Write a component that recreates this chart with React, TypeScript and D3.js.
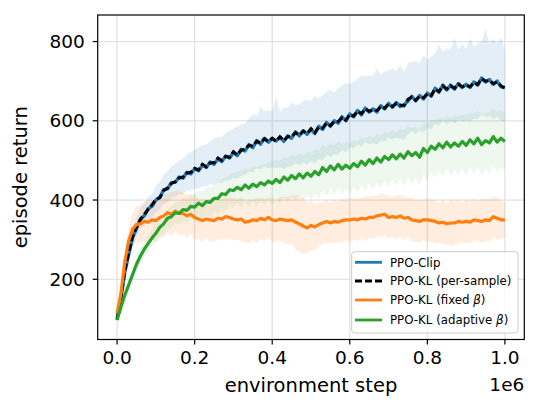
import * as d3 from "d3";

// environment steps, one point every 10k
const steps = d3.range(101).map((i) => i * 10000);

const ppoClip = [
  100, 152, 218, 262, 305, 328, 352, 360, 378, 384,
  400, 406, 426, 428, 444, 445, 458, 455, 470, 466,
  479, 474, 488, 482, 496, 490, 504, 497, 511, 506,
  520, 512, 528, 524, 540, 532, 550, 541, 556, 546,
  555, 549, 558, 548, 562, 556, 572, 562, 575, 566,
  578, 568, 586, 578, 596, 586, 600, 594, 610, 600,
  617, 610, 626, 615, 632, 622, 630, 622, 638, 630,
  644, 634, 646, 636, 640, 650, 662, 650, 664, 655,
  670, 662, 682, 672, 690, 678, 690, 680, 694, 684,
  692, 684, 698, 690, 708, 698, 704, 692, 700, 686,
  684,
];
const ppoClipUp = [
  5, 10, 15, 20, 22, 25, 28, 30, 30, 32,
  35, 40, 38, 45, 40, 48, 42, 50, 45, 55,
  48, 60, 50, 58, 52, 65, 55, 62, 58, 70,
  60, 75, 62, 70, 65, 85, 62, 95, 68, 80,
  70, 110, 65, 85, 72, 90, 68, 80, 75, 88,
  72, 95, 70, 85, 78, 92, 72, 88, 80, 95,
  75, 90, 78, 100, 80, 92, 85, 110, 78, 95,
  82, 98, 80, 105, 84, 95, 88, 100, 82, 110,
  85, 100, 88, 120, 84, 105, 90, 130, 86, 110,
  90, 125, 88, 105, 92, 135, 90, 115, 95, 125,
  92,
];
const ppoClipDown = [
  5, 10, 14, 18, 20, 22, 24, 26, 28, 30,
  32, 30, 36, 34, 40, 36, 44, 40, 46, 42,
  50, 44, 54, 48, 56, 52, 60, 54, 62, 56,
  64, 58, 66, 60, 68, 62, 70, 64, 72, 66,
  72, 68, 76, 70, 78, 72, 78, 74, 80, 76,
  80, 76, 82, 78, 82, 78, 84, 80, 84, 80,
  84, 80, 86, 80, 86, 82, 86, 82, 88, 82,
  86, 82, 88, 82, 88, 84, 88, 84, 88, 84,
  88, 84, 90, 84, 90, 86, 90, 86, 92, 86,
  90, 86, 92, 86, 92, 88, 92, 88, 90, 86,
  88,
];

const ppoKlSample = [
  98, 155, 222, 268, 308, 332, 350, 364, 376, 388,
  402, 406, 424, 430, 442, 446, 456, 458, 468, 470,
  480, 476, 490, 484, 494, 494, 506, 500, 510, 508,
  522, 514, 526, 528, 538, 536, 548, 544, 554, 548,
  556, 548, 560, 550, 560, 560, 570, 564, 574, 568,
  580, 570, 584, 582, 594, 588, 598, 598, 608, 602,
  616, 612, 624, 618, 630, 624, 628, 626, 636, 632,
  642, 636, 644, 640, 638, 654, 660, 652, 662, 658,
  668, 664, 680, 674, 688, 680, 688, 682, 692, 686,
  690, 686, 696, 692, 706, 700, 702, 694, 698, 688,
  682,
];

const ppoKlFixed = [
  114, 165, 245, 298, 326, 338, 340, 346, 344, 350,
  348, 356, 360, 368, 364, 372, 366, 366, 360, 364,
  356, 352, 348, 352, 350, 348, 354, 352, 358, 356,
  352, 350, 352, 344, 346, 350, 348, 354, 350, 356,
  350, 348, 352, 350, 348, 350, 344, 340, 334, 330,
  336, 332, 338, 342, 346, 342, 346, 344, 348, 350,
  350, 352, 350, 354, 352, 356, 356, 360, 362, 364,
  356, 358, 356, 360, 354, 356, 350, 348, 346, 350,
  350, 348, 346, 342, 344, 340, 342, 342, 346, 344,
  346, 344, 350, 348, 346, 350, 348, 358, 354, 350,
  350,
];
const ppoKlFixedSpread = [
  5, 12, 25, 35, 42, 46, 48, 50, 52, 48,
  54, 50, 56, 48, 55, 50, 58, 52, 55, 50,
  56, 50, 54, 48, 56, 52, 55, 50, 58, 52,
  54, 50, 56, 52, 55, 50, 58, 52, 54, 50,
  56, 52, 55, 58, 60, 62, 68, 72, 70, 65,
  62, 58, 56, 52, 55, 50, 56, 52, 55, 50,
  56, 52, 54, 50, 56, 52, 55, 50, 56, 52,
  54, 50, 56, 52, 55, 50, 56, 52, 54, 50,
  56, 52, 55, 50, 56, 52, 58, 54, 55, 50,
  56, 52, 54, 50, 56, 52, 55, 50, 54, 48,
  45,
];

const ppoKlAdaptive = [
  97, 130, 160, 186, 212, 238, 258, 276, 290, 304,
  316, 331, 340, 354, 358, 368, 366, 376, 374, 384,
  382, 392, 386, 396, 394, 404, 404, 416, 414, 426,
  424, 432, 426, 438, 430, 440, 434, 444, 438, 448,
  442, 452, 444, 458, 450, 462, 454, 466, 456, 468,
  460, 472, 464, 482, 472, 486, 476, 490, 478, 488,
  480, 492, 484, 498, 488, 502, 492, 506, 496, 510,
  502, 514, 504, 516, 506, 522, 512, 520, 508, 530,
  520, 536, 528, 542, 532, 546, 534, 544, 536, 548,
  538, 552, 542, 556, 540, 550, 544, 560, 546, 556,
  548,
];
const ppoKlAdaptiveSpread = [
  4, 8, 10, 12, 14, 16, 18, 20, 20, 22,
  24, 22, 26, 24, 28, 26, 30, 28, 32, 30,
  34, 30, 36, 33, 38, 35, 40, 37, 42, 39,
  44, 40, 46, 42, 48, 44, 50, 45, 52, 47,
  54, 48, 56, 50, 57, 52, 58, 53, 58, 54,
  60, 55, 62, 56, 62, 57, 63, 58, 64, 58,
  64, 59, 65, 60, 66, 60, 66, 61, 67, 62,
  68, 62, 68, 63, 70, 64, 70, 64, 71, 65,
  72, 66, 72, 66, 74, 67, 74, 68, 75, 68,
  76, 69, 76, 70, 78, 70, 78, 71, 76, 70,
  72,
];

const xTicks = [0, 200000, 400000, 600000, 800000, 1000000];
const xTickLabels = ["0.0", "0.2", "0.4", "0.6", "0.8", "1.0"];
const yTicks = [200, 400, 600, 800];

const BLUE = "#1f77b4";
const ORANGE = "#ff7f0e";
const GREEN = "#2ca02c";

const W = 540;
const H = 419;
const left = 97.7;
const right = 524.3;
const top = 15;
const bottom = 339.5;
const font = "'DejaVu Sans', sans-serif";

export default function App() {
  const x = d3.scaleLinear().domain([-50000, 1050000]).range([left, right]);
  const y = d3.scaleLinear().domain([48, 867]).range([bottom, top]);

  const line = (vals: number[]) =>
    d3
      .line<number>()
      .x((_, i) => x(steps[i]))
      .y((d) => y(d))(vals) || "";

  const band = (vals: number[], up: number[], down: number[]) =>
    d3
      .area<number>()
      .x((_, i) => x(steps[i]))
      .y0((d, i) => y(d - down[i]))
      .y1((d, i) => y(d + up[i]))(vals) || "";

  const legendItems = [
    { label: "PPO-Clip", color: BLUE, dash: "", beta: "" },
    { label: "PPO-KL (per-sample)", color: "#000", dash: "7,3", beta: "" },
    { label: "PPO-KL (fixed ", color: ORANGE, dash: "", beta: "β" },
    { label: "PPO-KL (adaptive ", color: GREEN, dash: "", beta: "β" },
  ];
  const legendRowsY = [262.3, 281, 300, 320];

  return (
    <svg
      width={W}
      height={H}
      style={{ position: "absolute", left: 0, top: 0, background: "#fff" }}
      fontFamily={font}
    >
      <defs>
        <clipPath id="plot">
          <rect x={left} y={top} width={right - left} height={bottom - top} />
        </clipPath>
      </defs>

      {/* grid */}
      <g stroke="#e2e2e2" strokeWidth={1.3}>
        {xTicks.map((t) => (
          <line key={"gx" + t} x1={x(t)} x2={x(t)} y1={top} y2={bottom} />
        ))}
        {yTicks.map((t) => (
          <line key={"gy" + t} x1={left} x2={right} y1={y(t)} y2={y(t)} />
        ))}
      </g>

      <g clipPath="url(#plot)">
        <path d={band(ppoClip, ppoClipUp, ppoClipDown)} fill={BLUE} fillOpacity={0.12} />
        <path
          d={band(ppoKlFixed, ppoKlFixedSpread, ppoKlFixedSpread)}
          fill={ORANGE}
          fillOpacity={0.13}
        />
        <path
          d={band(ppoKlAdaptive, ppoKlAdaptiveSpread, ppoKlAdaptiveSpread)}
          fill={GREEN}
          fillOpacity={0.08}
        />
        <path d={line(ppoClip)} fill="none" stroke={BLUE} strokeWidth={3.4} strokeLinejoin="round" />
        <path
          d={line(ppoKlSample)}
          fill="none"
          stroke="#000"
          strokeWidth={3}
          strokeDasharray="7,3"
        />
        <path d={line(ppoKlFixed)} fill="none" stroke={ORANGE} strokeWidth={3.2} strokeLinejoin="round" />
        <path d={line(ppoKlAdaptive)} fill="none" stroke={GREEN} strokeWidth={3.2} strokeLinejoin="round" />
      </g>

      {/* frame */}
      <rect
        x={left}
        y={top}
        width={right - left}
        height={bottom - top}
        fill="none"
        stroke="#000"
        strokeWidth={1.2}
      />

      {/* x axis */}
      {xTicks.map((t, i) => (
        <g key={"xt" + t}>
          <line x1={x(t)} x2={x(t)} y1={bottom} y2={bottom + 5} stroke="#000" strokeWidth={1.2} />
          <text x={x(t)} y={bottom + 24} textAnchor="middle" fontSize={18.5}>
            {xTickLabels[i]}
          </text>
        </g>
      ))}
      <text x={(left + right) / 2} y={392} textAnchor="middle" fontSize={19.5}>
        environment step
      </text>
      <text x={right} y={391} textAnchor="end" fontSize={18.5}>
        1e6
      </text>

      {/* y axis */}
      {yTicks.map((t) => (
        <g key={"yt" + t}>
          <line x1={left - 5} x2={left} y1={y(t)} y2={y(t)} stroke="#000" strokeWidth={1.2} />
          <text x={left - 13} y={y(t)} dy="0.36em" textAnchor="end" fontSize={18.5}>
            {t}
          </text>
        </g>
      ))}
      <text
        transform={`translate(27,${(top + bottom) / 2}) rotate(-90)`}
        textAnchor="middle"
        fontSize={19.5}
      >
        episode return
      </text>

      {/* legend */}
      <rect
        x={351.7}
        y={251.7}
        width={166.3}
        height={81.3}
        rx={3}
        fill="#fff"
        fillOpacity={0.8}
        stroke="#cccccc"
        strokeWidth={1}
      />
      {legendItems.map((it, i) => (
        <g key={it.label}>
          <line
            x1={355}
            x2={382}
            y1={legendRowsY[i]}
            y2={legendRowsY[i]}
            stroke={it.color}
            strokeWidth={2.8}
            strokeDasharray={it.dash || undefined}
          />
          <text x={390} y={legendRowsY[i]} dy="0.36em" fontSize={11.8}>
            {it.label}
            {it.beta && <tspan fontStyle="italic">{it.beta}</tspan>}
            {it.beta && ")"}
          </text>
        </g>
      ))}
    </svg>
  );
}
